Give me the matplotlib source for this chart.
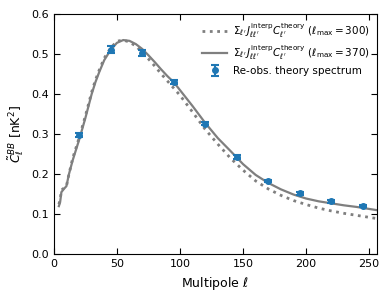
import matplotlib
matplotlib.use("Agg")
import matplotlib.pyplot as plt
import numpy as np

# ── Data ──────────────────────────────────────────────────────────────────────

ell_curve = [4, 5, 6, 8, 10, 12, 15, 18, 20, 25, 30, 33, 36, 40, 45, 50, 55, 60,
             65, 70, 75, 80, 85, 90, 95, 100, 110, 120, 130, 140, 150, 160, 170,
             180, 190, 200, 210, 220, 230, 240, 250, 256]

cl_370 = [0.120, 0.130, 0.155, 0.163, 0.170, 0.200, 0.235, 0.265, 0.285, 0.340,
          0.400, 0.430, 0.455, 0.485, 0.510, 0.528, 0.535, 0.533, 0.525, 0.513,
          0.497, 0.480, 0.462, 0.445, 0.430, 0.410, 0.370, 0.328, 0.290, 0.258,
          0.225, 0.198, 0.178, 0.162, 0.149, 0.139, 0.132, 0.127, 0.122, 0.118,
          0.113, 0.110]

cl_300 = [0.125, 0.135, 0.160, 0.165, 0.170, 0.200, 0.240, 0.270, 0.290, 0.345,
          0.405, 0.435, 0.460, 0.490, 0.515, 0.532, 0.535, 0.530, 0.520, 0.505,
          0.488, 0.470, 0.451, 0.433, 0.415, 0.397, 0.355, 0.312, 0.275, 0.240,
          0.210, 0.183, 0.163, 0.147, 0.134, 0.124, 0.115, 0.108, 0.102, 0.097,
          0.092, 0.089]

ell_obs = [20, 45, 70, 95, 120, 145, 170, 195, 220, 245]
cl_obs = [0.298, 0.511, 0.503, 0.430, 0.326, 0.243, 0.183, 0.152, 0.132, 0.121]
cl_err = [0.006, 0.008, 0.007, 0.005, 0.004, 0.004, 0.003, 0.003, 0.003, 0.003]

# ── Style ─────────────────────────────────────────────────────────────────────

plt.rcParams["mathtext.fontset"] = "dejavusans"
plt.rcParams["font.size"] = 8

GREY = "#7f7f7f"
BLUE = "#1f77b4"

SUM = r"$\Sigma_{\ell^\prime}\,J^{\rm interp}_{\ell\ell^\prime}C^{\rm theory}_{\ell^\prime}$"

fig = plt.figure(figsize=(3.9, 2.99), dpi=100)
ax = fig.add_axes([0.138, 0.150, 0.828, 0.803])

ax.plot(ell_curve, cl_300, ls=":", lw=2.0, color=GREY,
        label=SUM + r" ($\ell_{\rm max}=300$)")
ax.plot(ell_curve, cl_370, ls="-", lw=1.6, color=GREY,
        label=SUM + r" ($\ell_{\rm max}=370$)")
ax.errorbar(ell_obs, cl_obs, yerr=cl_err, fmt="o", ms=4, color=BLUE,
            elinewidth=1.5, capsize=3, capthick=1.5, zorder=5,
            label="Re-obs. theory spectrum")

ax.set_xlim(0, 256)
ax.set_ylim(0, 0.6)
ax.set_xticks([0, 50, 100, 150, 200, 250])
ax.set_yticks([0.0, 0.1, 0.2, 0.3, 0.4, 0.5, 0.6])
ax.tick_params(direction="in", top=True, right=True, labelsize=8, length=4)
ax.set_xlabel(r"Multipole $\ell$", fontsize=9)
ax.set_ylabel(r"$\tilde{C}_\ell^{BB}$ [nK$^2$]", fontsize=9)
ax.legend(loc="upper right", frameon=False, fontsize=7.5, handlelength=2.4,
          borderaxespad=0.3, labelspacing=0.4, handletextpad=0.5)

fig.savefig("out.png", dpi=100)
plt.close(fig)
